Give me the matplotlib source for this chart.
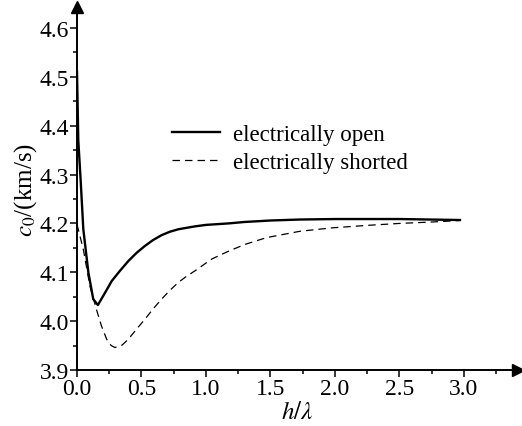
import matplotlib
matplotlib.use("Agg")
import matplotlib.pyplot as plt
from matplotlib.ticker import MultipleLocator

open_x = [0.0, 0.01, 0.028, 0.049, 0.088, 0.126, 0.162, 0.215, 0.269, 0.333, 0.398, 0.463,
          0.527, 0.59, 0.656, 0.72, 0.785, 0.85, 0.915, 1.0, 1.173, 1.3, 1.5, 1.73, 2.0,
          2.5, 2.97]
open_y = [4.51, 4.37, 4.29, 4.188, 4.10, 4.045, 4.033, 4.057, 4.082, 4.103, 4.123, 4.140,
          4.154, 4.166, 4.176, 4.183, 4.188, 4.191, 4.194, 4.197, 4.200, 4.203, 4.206, 4.208,
          4.209, 4.209, 4.207]

shorted_x = [0.0, 0.049, 0.10, 0.153, 0.19, 0.23, 0.265, 0.295, 0.35, 0.398, 0.463, 0.527,
             0.59, 0.656, 0.72, 0.785, 0.85, 0.915, 1.044, 1.173, 1.302, 1.47, 1.73, 1.98,
             2.25, 2.5, 2.76, 2.97]
shorted_y = [4.198, 4.147, 4.072, 4.022, 3.99, 3.963, 3.950, 3.946, 3.951, 3.963, 3.984, 4.004,
             4.025, 4.045, 4.063, 4.079, 4.092, 4.103, 4.127, 4.143, 4.157, 4.171, 4.184, 4.191,
             4.196, 4.2, 4.203, 4.206]

xticks = [0.0, 0.5, 1.0, 1.5, 2.0, 2.5, 3.0]
yticks = [3.9, 4.0, 4.1, 4.2, 4.3, 4.4, 4.5, 4.6]

plt.rcParams['font.family'] = ['Liberation Serif', 'DejaVu Serif']
plt.rcParams['mathtext.fontset'] = 'stix'

fig = plt.figure(figsize=(5.22, 4.27), dpi=100)
ax = fig.add_axes([77/522, 1-371/427, (518-77)/522, (371-8)/427])

ax.plot(open_x, open_y, color='black', lw=1.7, label='electrically open')
ax.plot(shorted_x, shorted_y, color='black', lw=0.9, ls=(0, (6, 4)), label='electrically shorted')

ax.set_xlim(0, 3.42)
ax.set_ylim(3.9, 4.643)
ax.set_xticks(xticks)
ax.set_xticklabels([f"{v:.1f}" for v in xticks])
ax.set_yticks(yticks)
ax.set_yticklabels([f"{v:.1f}" for v in yticks])
ax.xaxis.set_minor_locator(MultipleLocator(0.25))
ax.yaxis.set_minor_locator(MultipleLocator(0.05))
ax.tick_params(which='major', direction='out', length=5, width=1.1, labelsize=17, pad=1)
ax.tick_params(which='minor', direction='out', length=3, width=1.1)
ax.spines['top'].set_visible(False)
ax.spines['right'].set_visible(False)
ax.spines['left'].set_linewidth(1.4)
ax.spines['bottom'].set_linewidth(1.4)

ax.plot(1, 0, ls='', marker='>', ms=9, color='black', transform=ax.transAxes, clip_on=False)
ax.plot(0, 1, ls='', marker='^', ms=9, color='black', transform=ax.transAxes, clip_on=False)

ax.set_xlabel(r'$h/\lambda$', fontsize=18, labelpad=1)
ax.set_ylabel(r'$c_0$/(km/s)', fontsize=18, labelpad=0)

ax.legend(loc='upper left', bbox_to_anchor=(172/522, 1-125/427), bbox_transform=fig.transFigure,
          frameon=False, fontsize=16.5, borderpad=0, borderaxespad=0,
          handlelength=2.1, handletextpad=0.57, labelspacing=0.3)

fig.savefig('out.png', dpi=100)
